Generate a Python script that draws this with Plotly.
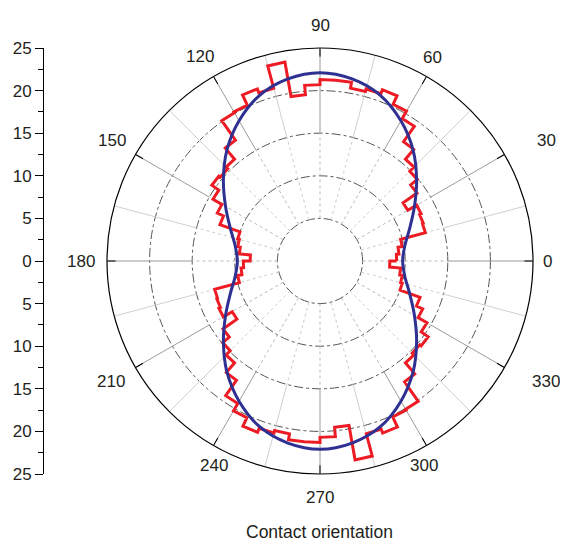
import math
import plotly.graph_objects as go

# Rose-diagram (5 degree bins, 0..360) of contact orientations
bin_width = 5
red_counts = [
    9.0, 9.3, 9.8, 12.8, 12.9, 13.1, 11.9, 13.9, 14.9, 15.6,
    17.1, 19.3, 20.3, 21.4, 20.9, 20.6, 21.3, 21.3, 20.7, 19.6,
    23.7, 21.0, 21.5, 20.2, 20.1, 17.3, 15.6, 15.3, 15.5, 14.5,
    13.3, 12.5, 10.0, 9.8, 9.5, 8.2,
    9.0, 9.3, 9.8, 12.8, 12.9, 13.1, 11.9, 13.9, 14.9, 15.6,
    17.1, 19.3, 20.3, 21.4, 20.9, 20.6, 21.3, 21.3, 20.7, 19.6,
    23.7, 21.0, 21.5, 20.2, 20.1, 17.3, 15.6, 15.3, 15.5, 14.5,
    13.3, 12.5, 10.0, 9.8, 9.5, 8.2,
]

# Fitted smooth curve (read every 10 degrees)
fit_angles = list(range(0, 370, 10))
fit_values = [
    9.7, 10.1, 11.2, 12.8, 14.8, 17.0, 19.0, 20.7, 21.7, 22.1,
    21.7, 20.7, 19.0, 17.0, 14.8, 12.8, 11.2, 10.1,
    9.7, 10.1, 11.2, 12.8, 14.8, 17.0, 19.0, 20.7, 21.7, 22.1,
    21.7, 20.7, 19.0, 17.0, 14.8, 12.8, 11.2, 10.1, 9.7,
]

angular_ticks = [0, 30, 60, 90, 120, 150, 180, 210, 240, 270, 300, 330]
radial_ticks = [-25, -20, -15, -10, -5, 0, 5, 10, 15, 20, 25]
grid_circles = [5, 10, 15, 20]
r_max = 25

# Build step outline of histogram
step_theta, step_r = [], []
for k, v in enumerate(red_counts):
    step_theta += [k * bin_width, (k + 1) * bin_width]
    step_r += [v, v]
step_theta.append(step_theta[0])
step_r.append(step_r[0])


def spokes(angles, r0, r1):
    th, rr = [], []
    for a in angles:
        th += [a, a, None]
        rr += [r0, r1, None]
    return th, rr


main_angles = angular_ticks
half_angles = [a + 15 for a in angular_ticks]

fig = go.Figure()
spoke_specs = [
    (half_angles, grid_circles[0], grid_circles[2], "#cccccc", "dot"),
    (half_angles, grid_circles[2], r_max, "#d0d0d0", "solid"),
    (main_angles, grid_circles[0], grid_circles[2], "#b8b8b8", "dot"),
    (main_angles, grid_circles[2], r_max, "#9a9a9a", "solid"),
]
for angs, r0, r1, col, dash in spoke_specs:
    th, rr = spokes(angs, r0, r1)
    fig.add_trace(go.Scatterpolar(
        r=rr, theta=th, mode="lines",
        line=dict(color=col, width=1, dash=dash),
        hoverinfo="skip", showlegend=False, connectgaps=False))

fig.add_trace(go.Scatterpolar(
    r=step_r, theta=step_theta, mode="lines",
    line=dict(color="#ED1C24", width=3),
    showlegend=False))
fig.add_trace(go.Scatterpolar(
    r=fit_values, theta=fit_angles, mode="lines",
    line=dict(color="#2E3192", width=3, shape="spline"),
    showlegend=False))

# dummy trace to carry the left vertical scale
fig.add_trace(go.Scatter(x=[0.5], y=[0], mode="markers",
                         marker=dict(opacity=0), hoverinfo="skip",
                         showlegend=False, xaxis="x", yaxis="y"))

W, H = 568, 549
OFF = 8                      # page body margin
cx, cy, R = 320 - OFF, 261 - OFF, 213
# placement (distance px, direction deg) of each angular label centre
label_dist = [227, 256, 233, 236, 237, 240, 239, 241, 230, 236, 229, 256]
label_dir = [0, 28, 61, 90, 120.5, 150, 180, 210, 242.5, 270, 297, 332]
axis_x = 44 - OFF
text_color = "#231f20"

annotations = []
for a, d, ang in zip(angular_ticks, label_dist, label_dir):
    px = cx + d * math.cos(math.radians(ang))
    py = cy - d * math.sin(math.radians(ang))
    annotations.append(dict(text=str(a), x=px / W, y=1 - py / H,
                            xref="paper", yref="paper", showarrow=False,
                            xanchor="center", yanchor="middle",
                            font=dict(size=17, color=text_color)))
annotations.append(dict(text="Contact orientation", x=(cx - 1) / W,
                        y=1 - (532 - OFF) / H, xref="paper", yref="paper",
                        showarrow=False, yanchor="middle",
                        font=dict(size=17.5, color=text_color)))

fig.update_layout(
    width=W, height=H,
    margin=dict(l=0, r=0, t=0, b=0, autoexpand=False),
    paper_bgcolor="white", plot_bgcolor="white",
    font=dict(family="Liberation Sans, Arial, sans-serif", size=17, color=text_color),
    polar=dict(
        domain=dict(x=[(cx - R) / W, (cx + R) / W],
                    y=[(H - cy - R) / H, (H - cy + R) / H]),
        bgcolor="white",
        radialaxis=dict(range=[0, r_max], tickvals=grid_circles,
                        showticklabels=False, ticks="", showline=False,
                        gridcolor="#555", griddash="dashdot", gridwidth=1),
        angularaxis=dict(rotation=0, direction="counterclockwise",
                         tickvals=angular_ticks,
                         showticklabels=False,
                         ticks="inside", ticklen=8, tickcolor="black",
                         showline=True, linecolor="black", linewidth=1.2,
                         showgrid=False),
    ),
    xaxis=dict(domain=[axis_x / W, 0.14], range=[0, 1], visible=False, fixedrange=True),
    yaxis=dict(domain=[(H - cy - R) / H, (H - cy + R) / H], anchor="x",
               range=[-r_max, r_max], tickvals=radial_ticks,
               ticktext=[str(abs(v)) for v in radial_ticks],
               showline=True, linecolor="black", linewidth=1,
               ticks="outside", ticklen=8, tickcolor="black",
               minor=dict(dtick=2.5, tick0=0, ticks="outside", ticklen=5,
                          tickcolor="black", showgrid=False),
               showgrid=False, zeroline=False, tickfont=dict(size=17)),
    annotations=annotations,
)

fig.write_html("out.html")
